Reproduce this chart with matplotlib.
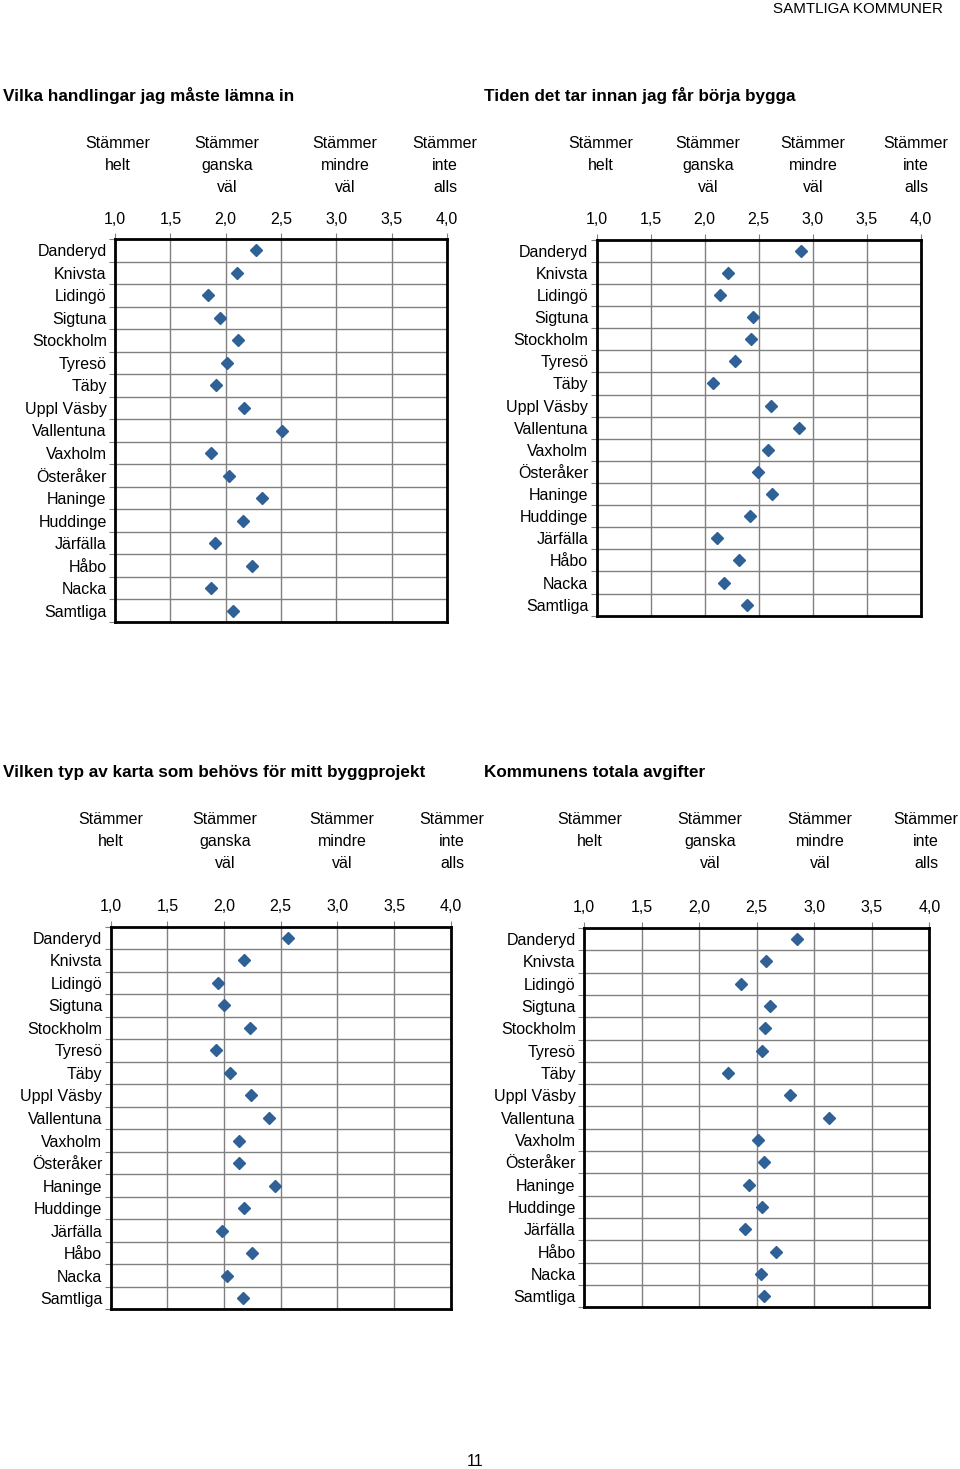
import matplotlib.pyplot as plt

plt.rcParams['font.family'] = ['Liberation Sans', 'DejaVu Sans']

kommuner = ['Danderyd', 'Knivsta', 'Lidingö', 'Sigtuna', 'Stockholm', 'Tyresö',
            'Täby', 'Uppl Väsby', 'Vallentuna', 'Vaxholm', 'Österåker', 'Haninge',
            'Huddinge', 'Järfälla', 'Håbo', 'Nacka', 'Samtliga']

handlingar = [2.27, 2.10, 1.84, 1.95, 2.11, 2.01, 1.91, 2.17, 2.51,
              1.87, 2.03, 2.33, 2.16, 1.90, 2.24, 1.87, 2.07]
tid_bygga = [2.89, 2.22, 2.14, 2.45, 2.43, 2.28, 2.08, 2.61, 2.87,
             2.59, 2.49, 2.62, 2.42, 2.11, 2.32, 2.18, 2.39]
karta = [2.56, 2.18, 1.95, 2.00, 2.23, 1.93, 2.05, 2.24, 2.40,
         2.13, 2.13, 2.45, 2.18, 1.98, 2.25, 2.03, 2.17]
avgifter = [2.85, 2.58, 2.36, 2.62, 2.57, 2.55, 2.25, 2.79, 3.13,
            2.51, 2.56, 2.43, 2.55, 2.40, 2.67, 2.54, 2.56]

rubriker = ['Vilka handlingar jag måste lämna in',
            'Tiden det tar innan jag får börja bygga',
            'Vilken typ av karta som behövs för mitt byggprojekt',
            'Kommunens totala avgifter']

skala_text = ['Stämmer\nhelt', 'Stämmer\nganska\nväl',
              'Stämmer\nmindre\nväl', 'Stämmer\ninte\nalls']
x_ticks = [1.0, 1.5, 2.0, 2.5, 3.0, 3.5, 4.0]
x_ticklabels = ['1,0', '1,5', '2,0', '2,5', '3,0', '3,5', '4,0']

W, H = 960, 1469
fig = plt.figure(figsize=(W / 100, H / 100), dpi=100)


def px_rect(x0, x1, y0, y1):
    return [x0 / W, 1 - y1 / H, (x1 - x0) / W, (y1 - y0) / H]


# layout: axes box, title pos, header top y, header centres (all in px)
paneler = [
    (px_rect(115, 447, 239, 622), 3, 96, 136, [118, 227, 345, 445], handlingar),
    (px_rect(596.7, 920.7, 239.7, 615.7), 484, 96, 136, [601, 708, 813, 916], tid_bygga),
    (px_rect(110.7, 450.7, 926.7, 1309.3), 3, 772, 812, [111, 225, 342, 452], karta),
    (px_rect(584, 929.3, 928, 1307.3), 484, 772, 812, [590, 710, 820, 926], avgifter),
]

n = len(kommuner)
for (rect, tx, ty, hy, hx, values), rubrik in zip(paneler, rubriker):
    ax = fig.add_axes(rect)
    ypos = [i + 0.5 for i in range(n)]
    ax.plot(values, ypos, linestyle='none', marker='D', markersize=6.5,
            color='#2F6096', zorder=3, clip_on=False)
    ax.set_xlim(1, 4)
    ax.set_ylim(n, 0)

    ax.set_xticks(x_ticks)
    ax.set_xticklabels(x_ticklabels)
    ax.xaxis.tick_top()
    ax.tick_params(axis='x', which='major', direction='out', length=4,
                   width=0.8, color='#808080', pad=5, labelsize=11.5)

    ax.set_yticks(range(n + 1))
    ax.set_yticklabels([])
    ax.set_yticks(ypos, minor=True)
    ax.set_yticklabels(kommuner, minor=True)
    ax.tick_params(axis='y', which='major', direction='out', length=4,
                   width=0.8, color='#808080')
    ax.tick_params(axis='y', which='minor', length=0, pad=6, labelsize=11.5)

    ax.grid(True, which='major', color='#808080', linewidth=1)
    ax.set_axisbelow(True)
    for sp in ax.spines.values():
        sp.set_linewidth(2)
        sp.set_color('black')

    fig.text(tx / W, 1 - ty / H, rubrik, fontsize=12.3, fontweight='bold',
             ha='left', va='center')

    for s, xp in zip(skala_text, hx):
        fig.text(xp / W, 1 - hy / H, s, ha='center', va='top',
                 multialignment='center', fontsize=11.5, linespacing=1.6)

fig.text(943 / W, 1 - 9 / H, 'SAMTLIGA KOMMUNER', fontsize=10.9,
         ha='right', va='center')
fig.text(475 / W, 1 - 1461 / H, '11', fontsize=11.5, ha='center', va='center')

fig.savefig('out.png', dpi=100, facecolor='white')
